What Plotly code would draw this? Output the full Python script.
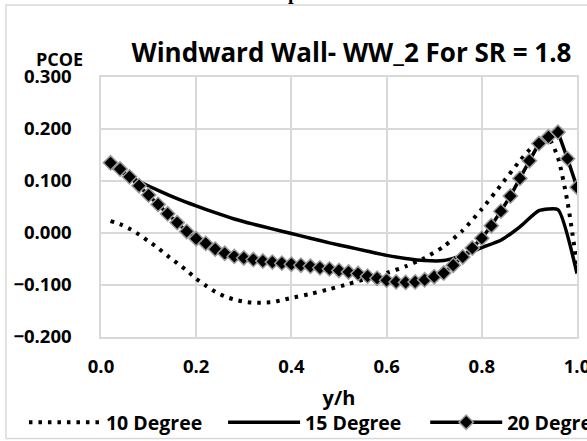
import plotly.graph_objects as go

# Pressure coefficient along the windward wall (WW_2), SR = 1.8
y_h = [round(0.02 * i, 2) for i in range(1, 51)]

pcoe_20 = [0.135, 0.123, 0.108, 0.091, 0.073, 0.055, 0.037, 0.020, 0.003, -0.011,
           -0.020, -0.031, -0.039, -0.045, -0.048, -0.051, -0.054, -0.056, -0.058, -0.060,
           -0.062, -0.064, -0.067, -0.069, -0.072, -0.075, -0.078, -0.083, -0.087, -0.091,
           -0.094, -0.095, -0.094, -0.090, -0.084, -0.077, -0.062, -0.046, -0.029, -0.010,
           0.014, 0.042, 0.071, 0.105, 0.139, 0.172, 0.185, 0.194, 0.143, 0.088]

y_h_10 = [0.02, 0.04, 0.06, 0.08, 0.10, 0.12, 0.14, 0.16, 0.18, 0.20, 0.22, 0.24, 0.26,
          0.28, 0.30, 0.32, 0.34, 0.36, 0.38, 0.40, 0.44, 0.48, 0.52, 0.56, 0.60, 0.64,
          0.68, 0.72, 0.76, 0.80, 0.84, 0.88, 0.90, 0.92, 0.94, 0.96, 0.98, 1.00]
pcoe_10 = [0.023, 0.017, 0.008, -0.003, -0.016, -0.029, -0.044, -0.058, -0.072, -0.088,
           -0.101, -0.113, -0.122, -0.128, -0.132, -0.134, -0.134, -0.133, -0.129, -0.125,
           -0.117, -0.108, -0.098, -0.087, -0.077, -0.064, -0.048, -0.026, 0.005, 0.046,
           0.092, 0.139, 0.160, 0.176, 0.182, 0.145, 0.060, -0.062]

y_h_15 = [0.02, 0.04, 0.08, 0.12, 0.16, 0.20, 0.24, 0.28, 0.32, 0.36, 0.40, 0.44, 0.48,
          0.52, 0.56, 0.60, 0.64, 0.68, 0.72, 0.76, 0.80, 0.84, 0.88, 0.92, 0.96, 1.00]
pcoe_15 = [0.128, 0.118, 0.099, 0.082, 0.066, 0.052, 0.039, 0.027, 0.017, 0.008,
           -0.001, -0.010, -0.019, -0.027, -0.035, -0.043, -0.049, -0.053, -0.053, -0.043,
           -0.028, -0.014, 0.012, 0.043, 0.045, -0.078]

series_names = ["10 Degree", "15 Degree", "20 Degree"]
x_ticks = [0.0, 0.2, 0.4, 0.6, 0.8, 1.0]
y_ticks = [-0.2, -0.1, 0.0, 0.1, 0.2, 0.3]

FONT = "Open Sans"
GRID = "#d9d9d9"

# plot-area geometry in pixels (used to place frame, labels and legends)
PL, PR, PT, PB = 101.0, 576.7, 77.3, 336.7
W, H = 587, 441


def px_x(px):
    return (px - PL) / (PR - PL)


def px_y(py):
    return (PB - py) / (PB - PT)


fig = go.Figure()
fig.add_trace(go.Scatter(
    x=y_h_10, y=pcoe_10, name=series_names[0], mode="lines", legend="legend",
    line=dict(color="black", width=4, dash="3.5px,6px", shape="spline", smoothing=0.6),
))
fig.add_trace(go.Scatter(
    x=y_h_15, y=pcoe_15, name=series_names[1], mode="lines", legend="legend2",
    line=dict(color="black", width=3.5, shape="spline", smoothing=0.5),
))
fig.add_trace(go.Scatter(
    x=y_h, y=pcoe_20, name=series_names[2], mode="lines+markers", legend="legend3",
    line=dict(color="black", width=3.5),
    marker=dict(symbol="diamond", size=11, color="black",
                line=dict(color="#9a9a9a", width=1.5)),
))

# outer chart frame
fig.add_shape(type="rect", xref="paper", yref="paper",
              x0=px_x(6), x1=px_x(620), y0=px_y(438), y1=px_y(5.5),
              line=dict(color=GRID, width=1.5), fillcolor="rgba(0,0,0,0)", layer="below")

fig.add_annotation(text="<b>PCOE</b>", xref="paper", yref="paper",
                   x=px_x(60), y=px_y(59),
                   xanchor="center", yanchor="middle", showarrow=False,
                   font=dict(family=FONT, size=18, color="black"))

# caption line of the surrounding page, running off the top edge
fig.add_annotation(text="<b>p</b>", xref="paper", yref="paper",
                   x=px_x(293), y=px_y(-7),
                   xanchor="center", yanchor="middle", showarrow=False,
                   font=dict(family="Liberation Serif", size=20, color="black"))


def legend_box(px_left):
    return dict(orientation="h", x=px_x(px_left), y=px_y(422),
                xanchor="left", yanchor="middle",
                font=dict(family=FONT, size=19.5, color="black", weight="bold"),
                itemwidth=72, bgcolor="rgba(0,0,0,0)")


fig.update_layout(
    width=W, height=H,
    margin=dict(l=PL, r=W - PR, t=PT, b=H - PB, autoexpand=False),
    paper_bgcolor="white", plot_bgcolor="white",
    font=dict(family=FONT, color="black"),
    title=dict(text="<b>Windward Wall- WW_2 For SR = 1.8</b>",
               x=351.5 / W, y=1 - 53 / H, xanchor="center", yanchor="middle",
               font=dict(family=FONT, size=26, color="black")),
    showlegend=True,
    legend=legend_box(24),
    legend2=legend_box(223),
    legend3=legend_box(425),
    xaxis=dict(range=[0, 1], tickvals=x_ticks, tickformat=".1f",
               showgrid=True, gridcolor=GRID, gridwidth=1.5,
               showline=True, linecolor=GRID, linewidth=1.5, mirror=True,
               zeroline=False, ticks="", ticklabelstandoff=12,
               ticklabeloverflow="allow", automargin=False,
               tickfont=dict(family=FONT, size=18.5, color="black", weight="bold"),
               title=dict(text="<b>y/h</b>", standoff=14,
                          font=dict(family=FONT, size=20, color="black"))),
    yaxis=dict(range=[-0.2, 0.3], tickvals=y_ticks, tickformat=".3f",
               showgrid=True, gridcolor=GRID, gridwidth=1.5,
               showline=True, linecolor=GRID, linewidth=1.5, mirror=True,
               zeroline=False, ticks="", ticklabelstandoff=24, automargin=False,
               tickfont=dict(family=FONT, size=18.5, color="black", weight="bold")),
)

fig.write_html("out.html")
